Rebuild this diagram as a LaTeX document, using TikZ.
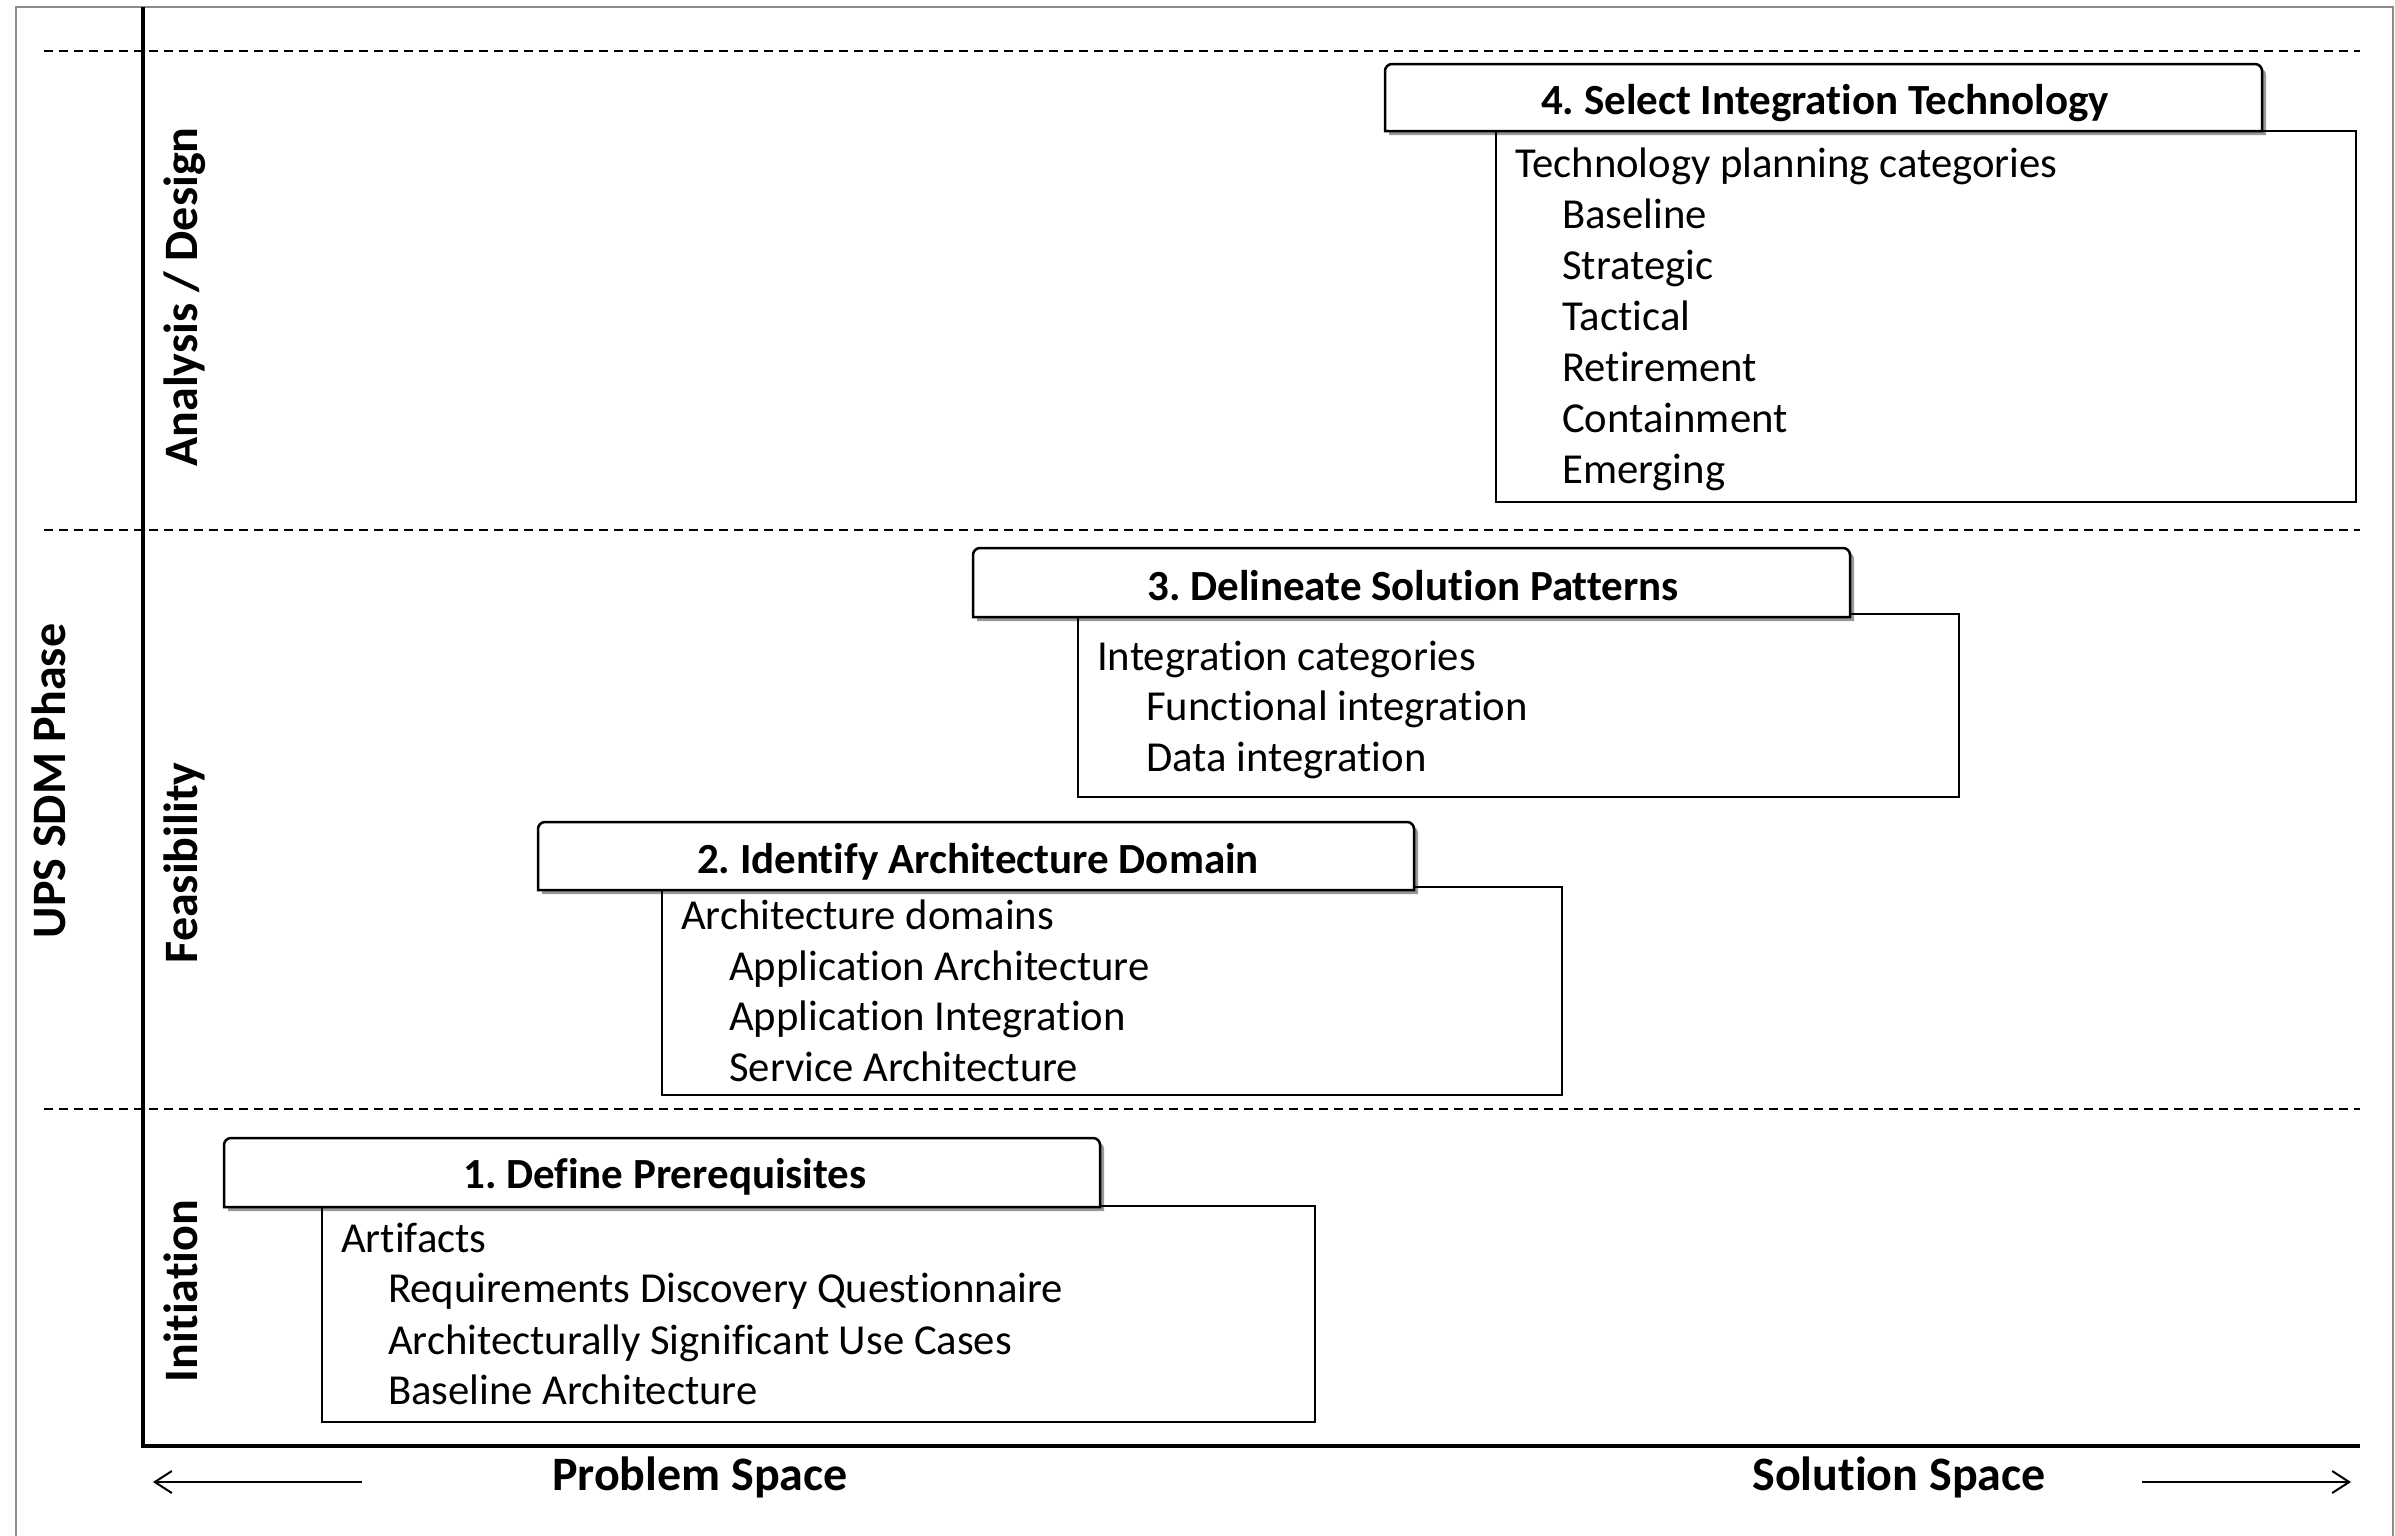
\documentclass[tikz,border=0pt]{standalone}
\usepackage{fontspec}
\setmainfont[Ligatures=NoCommon]{Carlito}
\usetikzlibrary{arrows.meta,shadows}
\frenchspacing
\begin{document}
\begin{tikzpicture}[x=1pt,y=-1pt,
  frameline/.style={draw=black!45, line width=2pt},
  axisline/.style={line width=4pt},
  phaseline/.style={line width=1.8pt, dash pattern=on 9pt off 6pt},
  bodybox/.style={draw, line width=2pt, fill=white, anchor=north west, inner sep=0pt},
  titleshape/.style={draw, line width=2.5pt, fill=white,
    drop shadow={shadow xshift=4pt, shadow yshift=-4pt, opacity=0.4, fill=black}},
  titletext/.style={font=\fontsize{43}{51}\selectfont\bfseries, anchor=base, inner sep=0pt},
  bodytext/.style={font=\fontsize{42.7}{51}\selectfont, anchor=base west, inner sep=0pt},
  sidelabel/.style={font=\fontsize{48}{57}\selectfont\bfseries, rotate=90, anchor=base, inner sep=0pt},
  spacelabel/.style={font=\fontsize{48}{57}\selectfont\bfseries, anchor=base, inner sep=0pt},
  spacearrow/.style={line width=2pt, -{Straight Barb[length=17pt,width=22pt,line width=2pt]}}
]
\useasboundingbox (0,0) rectangle (2395,1535);
% frame
\draw[frameline] (16,1545) -- (16,7) -- (2393,7) -- (2393,1545);
% phase separators
\coordinate (d1a) at (44,51);   \coordinate (d1b) at (2360,51);
\coordinate (d2a) at (44,530);  \coordinate (d2b) at (2360,530);
\coordinate (d3a) at (44,1109); \coordinate (d3b) at (2360,1109);
\draw[phaseline] (d1a) -- (d1b);
\draw[phaseline] (d2a) -- (d2b);
\draw[phaseline] (d3a) -- (d3b);
% axes
\coordinate (ytop) at (143,7);
\coordinate (origin) at (143,1446);
\coordinate (xend) at (2360,1446);
\draw[axisline] (ytop) -- (origin) -- (xend);

% ---- body boxes
\node[bodybox, minimum width=993pt, minimum height=216pt] (b1) at (321,1205) {};
\node[bodybox, minimum width=900pt, minimum height=208pt] (b2) at (661,886) {};
\node[bodybox, minimum width=881pt, minimum height=183pt] (b3) at (1077,613) {};
\node[bodybox, minimum width=860pt, minimum height=371pt] (b4) at (1495,130) {};

% ---- title boxes
\path[titleshape] (224,1207) [rounded corners=7pt] -- (224,1138) -- (1100,1138) [sharp corners] -- (1100,1207) -- cycle;
\path[titleshape] (538,890) [rounded corners=7pt] -- (538,822) -- (1414,822) [sharp corners] -- (1414,890) -- cycle;
\path[titleshape] (973,617) [rounded corners=7pt] -- (973,548) -- (1850,548) [sharp corners] -- (1850,617) -- cycle;
\path[titleshape] (1385,131) [rounded corners=7pt] -- (1385,64) -- (2262,64) [sharp corners] -- (2262,131) -- cycle;

\node[titletext] (t1) at (665,1188) {1. Define Prerequisites};
\node[titletext] (t2) at (978,873) {2. Identify Architecture Domain};
\node[titletext] (t3) at (1413,600) {3. Delineate Solution Patterns};
\node[titletext] (t4) at (1825,114) {4. Select Integration Technology};

% ---- box 1 text
\node[bodytext] (b1l1) at (341,1252) {Artifacts};
\node[bodytext] (b1l2) at (388,1302) {Requirements Discovery Questionnaire};
\node[bodytext] (b1l3) at (388,1354) {Architecturally Significant Use Cases};
\node[bodytext] (b1l4) at (388,1404) {Baseline Architecture};
% ---- box 2 text
\node[bodytext] (b2l1) at (681,929) {Architecture domains};
\node[bodytext] (b2l2) at (729,980) {Application Architecture};
\node[bodytext] (b2l3) at (729,1030) {Application Integration};
\node[bodytext] (b2l4) at (729,1081) {Service Architecture};
% ---- box 3 text
\node[bodytext] (b3l1) at (1097,670) {Integration categories};
\node[bodytext] (b3l2) at (1146,720) {Functional integration};
\node[bodytext] (b3l3) at (1146,771) {Data integration};
% ---- box 4 text
\node[bodytext] (b4l1) at (1515,177) {Technology planning categories};
\node[bodytext] (b4l2) at (1562,228) {Baseline};
\node[bodytext] (b4l3) at (1562,279) {Strategic};
\node[bodytext] (b4l4) at (1562,330) {Tactical};
\node[bodytext] (b4l5) at (1562,381) {Retirement};
\node[bodytext] (b4l6) at (1562,432) {Containment};
\node[bodytext] (b4l7) at (1562,483) {Emerging};

% ---- side labels
\node[sidelabel] (sAD) at (197,297) {Analysis / Design};
\node[sidelabel] (sFe) at (197,863) {Feasibility};
\node[sidelabel] (sIn) at (197,1291) {Initiation};
\node[sidelabel] (sUP) at (65,781) {UPS SDM Phase};

% ---- bottom labels and arrows
\node[spacelabel] (ps) at (700,1490) {Problem Space};
\node[spacelabel] (ss) at (1899,1490) {Solution Space};
\coordinate (la1) at (362,1482); \coordinate (la2) at (153,1482);
\coordinate (ra1) at (2142,1482); \coordinate (ra2) at (2351,1482);
\draw[spacearrow] (la1) -- (la2);
\draw[spacearrow] (ra1) -- (ra2);
\end{tikzpicture}
\end{document}
